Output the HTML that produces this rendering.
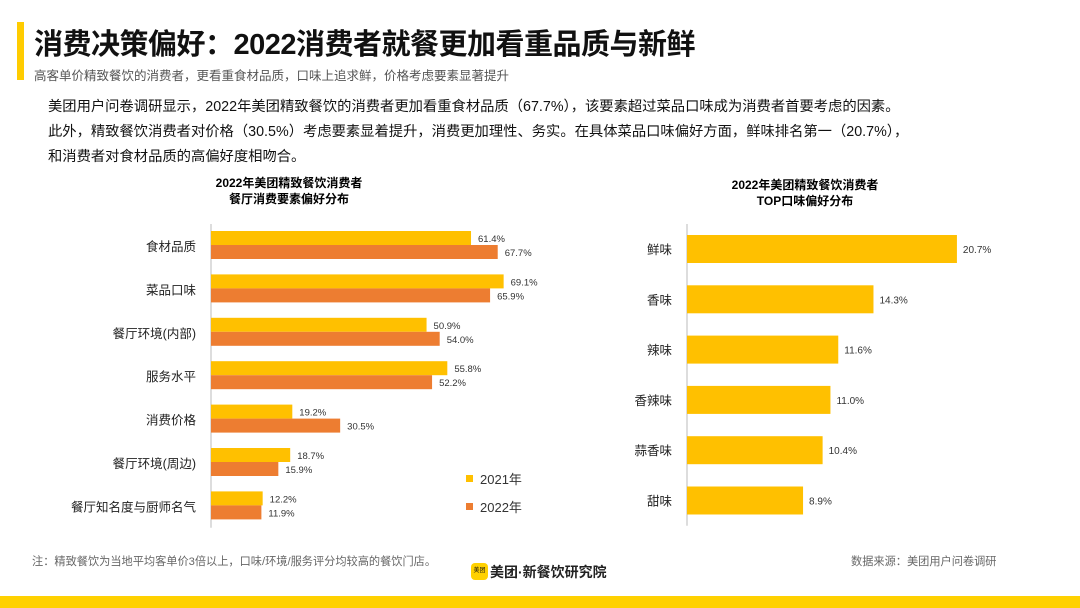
<!DOCTYPE html>
<html><head><meta charset="utf-8"><style>
body{margin:0;width:1080px;height:608px;background:#fff;position:relative;overflow:hidden;font-family:"Liberation Sans","Noto Sans CJK SC",sans-serif;color:#111}
.a{position:absolute;white-space:nowrap}
</style></head><body>
<div class="a" style="left:17px;top:22px;width:7px;height:58px;background:#FFCC00"></div>
<div class="a" style="left:34px;top:21px;font-size:29px;font-weight:bold;letter-spacing:-0.5px">消费决策偏好：2022消费者就餐更加看重品质与新鲜</div>
<div class="a" style="left:34px;top:65px;font-size:12.5px;color:#555">高客单价精致餐饮的消费者，更看重食材品质，口味上追求鲜，价格考虑要素显著提升</div>
<div class="a" style="left:48px;top:95px;font-size:14.3px;line-height:25px;color:#111">美团用户问卷调研显示，2022年美团精致餐饮的消费者更加看重食材品质（67.7%），该要素超过菜品口味成为消费者首要考虑的因素。<br>此外，精致餐饮消费者对价格（30.5%）考虑要素显着提升，消费更加理性、务实。在具体菜品口味偏好方面，鲜味排名第一（20.7%），<br>和消费者对食材品质的高偏好度相吻合。</div>
<svg id="c" class="a" style="left:0;top:0" width="1080" height="608"></svg>
<div class="a" style="left:32px;top:553px;font-size:11.2px;color:#666">注：精致餐饮为当地平均客单价3倍以上，口味/环境/服务评分均较高的餐饮门店。</div>
<div class="a" style="left:851px;top:553px;font-size:11.2px;color:#666">数据来源：美团用户问卷调研</div>
<div class="a" style="left:471px;top:563px;width:17px;height:17px;border-radius:4px;background:#FFD100;font-size:6px;line-height:17px;text-align:center">美团</div>
<div class="a" style="left:490px;top:562px;font-size:14px;font-weight:bold;color:#222">美团·新餐饮研究院</div>
<div class="a" style="left:0;top:596px;width:1080px;height:12px;background:#FFD100"></div>
<script>
const factorCats=["食材品质","菜品口味","餐厅环境(内部)","服务水平","消费价格","餐厅环境(周边)","餐厅知名度与厨师名气"];
const v2021=[61.4,69.1,50.9,55.8,19.2,18.7,12.2];
const v2022=[67.7,65.9,54.0,52.2,30.5,15.9,11.9];
const tasteCats=["鲜味","香味","辣味","香辣味","蒜香味","甜味"];
const tasteVals=[20.7,14.3,11.6,11.0,10.4,8.9];
const Y="#FFC000",O="#ED7D31",NS="http://www.w3.org/2000/svg";
const svg=document.getElementById('c');
function mk(t,a,txt){const e=document.createElementNS(NS,t);for(const k in a)e.setAttribute(k,a[k]);if(txt!=null)e.textContent=txt;svg.appendChild(e);return e;}
const F='"Liberation Sans","Noto Sans CJK SC",sans-serif';
let e;
e=mk('text',{x:289,y:187,'text-anchor':'middle','font-size':12,'font-weight':'bold','font-family':F},'2022年美团精致餐饮消费者');

e=mk('text',{x:289,y:203,'text-anchor':'middle','font-size':12,'font-weight':'bold','font-family':F},'餐厅消费要素偏好分布');

const lx=211,lk=4.235,lTop=224,lStep=43.4;
const lxS=v=>v*lk, lyC=i=>lTop+22+i*lStep;
e=mk('line',{x1:lx,x2:lx,y1:lTop,y2:lTop+lStep*7,stroke:'#bbb'});

factorCats.forEach((c,i)=>{const yc=lyC(i);
 e=mk('text',{x:196,y:yc+5,'text-anchor':'end','font-size':12.5,'font-family':F,fill:'#222'},c);
 
 e=mk('rect',{x:lx,y:yc-15,width:lxS(v2021[i]),height:14,fill:Y});
 
 e=mk('rect',{x:lx,y:yc-1,width:lxS(v2022[i]),height:14,fill:O});
 
 e=mk('text',{x:lx+lxS(v2021[i])+7,y:yc-4,'font-size':9.5,'font-family':F,fill:'#333'},v2021[i].toFixed(1)+'%');
 
 e=mk('text',{x:lx+lxS(v2022[i])+7,y:yc+10,'font-size':9.5,'font-family':F,fill:'#333'},v2022[i].toFixed(1)+'%');
 
});
[[Y,'2021年',480],[O,'2022年',508]].forEach(([col,t,y])=>{
 e=mk('rect',{x:466,y:y-5,width:7,height:7,fill:col});
 
 e=mk('text',{x:480,y:y+4,'font-size':13,'font-family':F,fill:'#333'},t);
 
});
e=mk('text',{x:805,y:189,'text-anchor':'middle','font-size':12,'font-weight':'bold','font-family':F},'2022年美团精致餐饮消费者');

e=mk('text',{x:805,y:205,'text-anchor':'middle','font-size':12,'font-weight':'bold','font-family':F},'TOP口味偏好分布');

const rx=687,rk=13.04,rTop=224,rStep=50.3;
const rxS=v=>v*rk, ryC=i=>rTop+25+i*rStep;
e=mk('line',{x1:rx,x2:rx,y1:rTop,y2:rTop+rStep*6,stroke:'#bbb'});

tasteCats.forEach((c,i)=>{const yc=ryC(i);
 e=mk('text',{x:672,y:yc+5,'text-anchor':'end','font-size':12.5,'font-family':F,fill:'#222'},c);
 
 e=mk('rect',{x:rx,y:yc-14,width:rxS(tasteVals[i]),height:28,fill:Y});
 
 e=mk('text',{x:rx+rxS(tasteVals[i])+6,y:yc+4,'font-size':10,'font-family':F,fill:'#333'},tasteVals[i].toFixed(1)+'%');
 
});
</script>
</body></html>
